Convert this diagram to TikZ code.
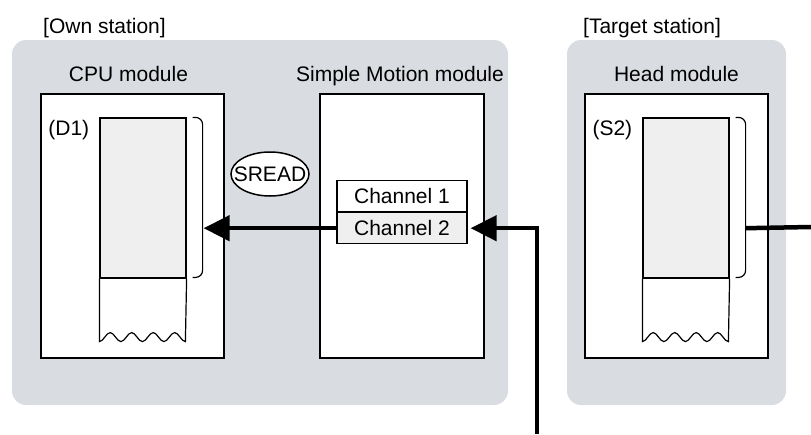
\documentclass[tikz,border=0pt]{standalone}
\usepackage{fontspec}
\setmainfont{Liberation Sans}
\usetikzlibrary{shapes.geometric,arrows.meta,positioning}

\definecolor{panelgray}{RGB}{217,220,224}
\definecolor{memgray}{RGB}{239,239,239}

\tikzset{
  panel/.style={fill=panelgray,rounded corners=14pt},
  txt/.style={font=\fontsize{21}{25}\selectfont,inner sep=0pt},
  module/.style={draw,fill=white,line width=1.2pt,minimum width=183pt,minimum height=264pt,inner sep=0pt},
  memory/.style={draw,fill=memgray,line width=1.2pt,minimum width=86pt,minimum height=160pt,inner sep=0pt},
  chanbox/.style={draw,txt,line width=1.2pt,minimum width=130pt,minimum height=31pt},
  thinline/.style={line width=1.2pt},
  flow/.style={line width=4.5pt,line join=miter,-{Triangle[length=26pt,width=25pt]}},
  wire/.style={line width=4.5pt}
}

\begin{document}
\begin{tikzpicture}[x=1pt,y=-1pt]
\useasboundingbox (0,0) rectangle (811,434);

\fill[panel] (12,40) rectangle (508,405);
\fill[panel] (567,40) rectangle (786,405);

\node[txt,anchor=base west] (own) at (43,33) {[Own station]};
\node[txt,anchor=base west] (target) at (583,33) {[Target station]};

\node[module] (cpu) at (132.5,226) {};
\node[module,minimum width=164pt] (smm) at (402,226) {};
\node[module] (head) at (676.5,226) {};

\node[txt,anchor=base] (cputitle) at ([xshift=-4pt,yshift=12pt]cpu.north) {CPU module};
\node[txt,anchor=base] (smmtitle) at ([xshift=-2pt,yshift=12pt]smm.north) {Simple Motion module};
\node[txt,anchor=base] (headtitle) at ([yshift=12pt]head.north) {Head module};

\node[memory] (d1) at (143,198) {};
\node[memory] (s2) at (686,198) {};

\node[txt,anchor=base east] (d1lbl) at ([xshift=-10pt,yshift=-18pt]d1.north west) {(D1)};
\node[txt,anchor=base east] (s2lbl) at ([xshift=-10pt,yshift=-18pt]s2.north west) {(S2)};

\foreach \m in {d1,s2} {
  \draw[thinline] (\m.south west) -- ++(0,63)
    \foreach \i in {1,...,4} {cos ++(5.375,-4.5) sin ++(5.375,-4.5) cos ++(5.375,4.5) sin ++(5.375,4.5)}
    -- (\m.south east);
  \draw[thinline,rounded corners=7pt] ([xshift=6pt]\m.north east) -- ++(10,0) -- ++(0,160) -- ++(-10,0);
}

\coordinate (d1b) at ([xshift=17pt]d1.east);
\coordinate (s2b) at ([xshift=16pt]s2.east);

\node[ellipse,draw,fill=white,line width=1.5pt,minimum width=78pt,minimum height=44pt,inner sep=0pt,txt] (sread) at (270,174) {\makebox[0pt]{SREAD}};

\node[chanbox,fill=white] (ch1) at (402,196) {Channel 1};
\node[chanbox,fill=memgray,below=0pt of ch1] (ch2) {Channel 2};

\coordinate (bend) at (537,434);
\coordinate (exit) at (811,227);

\draw[flow] (ch2.west) -- (ch2.west -| d1b);
\draw[flow] (bend) |- ([xshift=3pt]ch2.east);
\draw[wire] (s2b |- ch2.east) -- (exit);

\end{tikzpicture}
\end{document}
